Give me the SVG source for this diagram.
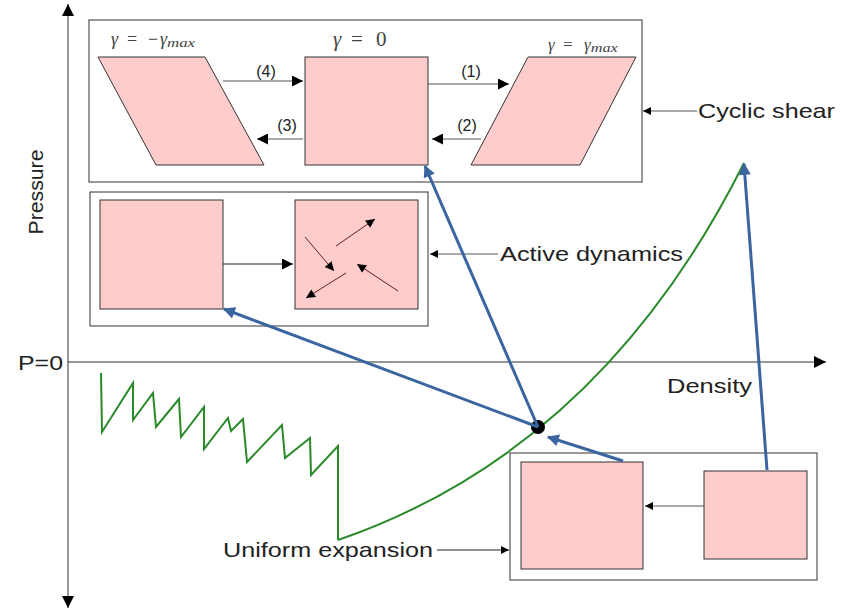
<svg xmlns="http://www.w3.org/2000/svg" width="847" height="611" viewBox="0 0 847 611">
  <defs>
    <style>
      .frame { fill: #ffffff; stroke: #333333; stroke-width: 1; }
      .cell { fill: #ffcccc; stroke: #333333; stroke-width: 1; }
      .thin { stroke: #555555; stroke-width: 1; fill: none; }
      .blue { stroke: #3a65a0; stroke-width: 3; fill: none; }
      .green { stroke: #2a8a2a; stroke-width: 2; fill: none; stroke-linejoin: miter; }
      .lbl { font-family: "Liberation Sans", Arial, sans-serif; font-size: 21px; fill: #222222; }
      .num { font-family: "Liberation Sans", Arial, sans-serif; font-size: 16px; fill: #222222; }
      .math { font-family: "Liberation Serif", "Times New Roman", serif; font-style: italic; fill: #444444; }
      .kick { stroke: #6b1a1a; stroke-width: 1; fill: none; }
    </style>
    <marker id="head" viewBox="0 0 10 10" refX="10" refY="5" markerWidth="10" markerHeight="8" markerUnits="userSpaceOnUse" orient="auto">
      <path d="M0,0 L10,5 L0,10 Z" fill="#000000"/>
    </marker>
    <marker id="headMid" viewBox="0 0 10 10" refX="10" refY="5" markerWidth="14" markerHeight="9" markerUnits="userSpaceOnUse" orient="auto">
      <path d="M0,0 L10,5 L0,10 Z" fill="#000000"/>
    </marker>
    <marker id="headBig" viewBox="0 0 10 10" refX="10" refY="5" markerWidth="15" markerHeight="11" markerUnits="userSpaceOnUse" orient="auto">
      <path d="M0,0 L10,5 L0,10 Z" fill="#000000"/>
    </marker>
    <marker id="headAxis" viewBox="0 0 10 10" refX="10" refY="5" markerWidth="18" markerHeight="12" markerUnits="userSpaceOnUse" orient="auto">
      <path d="M0,0 L10,5 L0,10 Z" fill="#000000"/>
    </marker>
    <marker id="headBlue" viewBox="0 0 10 10" refX="9" refY="5" markerWidth="16" markerHeight="12" markerUnits="userSpaceOnUse" orient="auto">
      <path d="M0,0 L10,5 L0,10 Z" fill="#3a65a0"/>
    </marker>
  </defs>

  <rect width="847" height="611" fill="#ffffff"/>

  <!-- axes -->
  <g id="axes">
    <line x1="68" y1="20" x2="68" y2="4" stroke="#555" stroke-width="1.2" marker-end="url(#headAxis)"/>
    <line x1="68" y1="20" x2="68" y2="608" stroke="#555" stroke-width="1.2" marker-end="url(#headAxis)"/>
    <line x1="68" y1="362" x2="826" y2="362" stroke="#333" stroke-width="1.2" marker-end="url(#headAxis)"/>
    <text class="lbl" x="18" y="370" textLength="45" lengthAdjust="spacingAndGlyphs">P=0</text>
    <text class="lbl" x="0" y="0" text-anchor="middle" transform="translate(43,192) rotate(-90)" textLength="85" lengthAdjust="spacingAndGlyphs">Pressure</text>
    <text class="lbl" x="667" y="393" textLength="85" lengthAdjust="spacingAndGlyphs">Density</text>
  </g>

  <!-- pressure/density trace -->
  <g id="trace">
    <polyline class="green" points="101,373 102,432 133,383 133,420 153,393 156,427 179,399 181,437 204,407 204,449 228,418 231,431 243,419 247,462 282,425 285,458 310,438 311,475 338,446 338,540"/>
    <path class="green" d="M338,540 Q600,450 744,163"/>
  </g>

  <!-- cyclic shear panel -->
  <g id="cyclic-shear">
    <rect class="frame" x="89" y="20" width="553" height="162"/>
    <polygon class="cell" points="98,57 205,57 264,165 156,165"/>
    <rect class="cell" x="305" y="57" width="123" height="108"/>
    <polygon class="cell" points="528,57 636,57 580,165 471,165"/>
    <text class="math" x="111" y="45" font-size="18">γ<tspan x="127" font-style="normal">=</tspan><tspan x="148" font-style="normal">−</tspan><tspan x="160">γ</tspan><tspan font-size="13" dy="2" textLength="28" lengthAdjust="spacingAndGlyphs">max</tspan></text>
    <text class="math" x="333" y="46" font-size="21">γ<tspan x="351" font-style="normal">=</tspan><tspan x="376" font-style="normal">0</tspan></text>
    <text class="math" x="548" y="50" font-size="17">γ<tspan x="563" font-style="normal">=</tspan><tspan x="584">γ</tspan><tspan font-size="12" dy="2" textLength="27" lengthAdjust="spacingAndGlyphs">max</tspan></text>
    <text class="num" x="266" y="77" text-anchor="middle">(4)</text>
    <text class="num" x="471" y="77" text-anchor="middle">(1)</text>
    <text class="num" x="287" y="131" text-anchor="middle">(3)</text>
    <text class="num" x="467" y="131" text-anchor="middle">(2)</text>
  </g>

  <!-- active dynamics panel -->
  <g id="active-dynamics">
    <rect class="frame" x="90" y="192" width="338" height="134"/>
    <rect class="cell" x="100" y="200" width="123" height="109"/>
    <rect class="cell" x="295" y="200" width="123" height="109"/>
    <line class="kick" x1="336" y1="246" x2="375" y2="219" marker-end="url(#headMid)"/>
    <line class="kick" x1="305" y1="237" x2="334" y2="271" marker-end="url(#headMid)"/>
    <line class="kick" x1="398" y1="291" x2="357" y2="264" marker-end="url(#headMid)"/>
    <line class="kick" x1="346" y1="273" x2="306" y2="298" marker-end="url(#headMid)"/>
  </g>

  <!-- uniform expansion panel -->
  <g id="uniform-expansion">
    <rect class="frame" x="510" y="453" width="307" height="127"/>
    <rect class="cell" x="521" y="462" width="122" height="107"/>
    <rect class="cell" x="704" y="471" width="103" height="88"/>
  </g>

  <!-- jammed state marker -->
  <g id="state-point">
    <circle cx="538" cy="427" r="7" fill="#000000"/>
  </g>

  <!-- connectors -->
  <g id="connectors">
    <line class="thin" x1="223" y1="81" x2="303" y2="81" marker-end="url(#headBig)"/>
    <line class="thin" x1="428" y1="84" x2="509" y2="84" marker-end="url(#headBig)"/>
    <line class="thin" x1="303" y1="139" x2="257" y2="139" marker-end="url(#headBig)"/>
    <line class="thin" x1="481" y1="139" x2="432" y2="139" marker-end="url(#headBig)"/>
    <line x1="223" y1="264" x2="293" y2="264" stroke="#222" stroke-width="1" marker-end="url(#headBig)"/>
    <line class="thin" x1="704" y1="506" x2="645" y2="506" marker-end="url(#head)"/>

    <line class="thin" x1="697" y1="111" x2="643" y2="111" marker-end="url(#head)"/>
    <text class="lbl" x="698" y="118" textLength="137" lengthAdjust="spacingAndGlyphs">Cyclic shear</text>
    <line class="thin" x1="498" y1="254" x2="430" y2="254" marker-end="url(#head)"/>
    <text class="lbl" x="500" y="261" textLength="183" lengthAdjust="spacingAndGlyphs">Active dynamics</text>
    <line x1="437" y1="550" x2="509" y2="550" stroke="#222" stroke-width="1" marker-end="url(#head)"/>
    <text class="lbl" x="223" y="557" textLength="210" lengthAdjust="spacingAndGlyphs">Uniform expansion</text>

    <line class="blue" x1="538" y1="427" x2="224" y2="309" marker-end="url(#headBlue)"/>
    <line class="blue" x1="538" y1="427" x2="425" y2="166" marker-end="url(#headBlue)"/>
    <line class="blue" x1="623" y1="461" x2="548" y2="437" marker-end="url(#headBlue)"/>
    <line class="blue" x1="767" y1="470" x2="744" y2="164" marker-end="url(#headBlue)"/>
  </g>
</svg>
